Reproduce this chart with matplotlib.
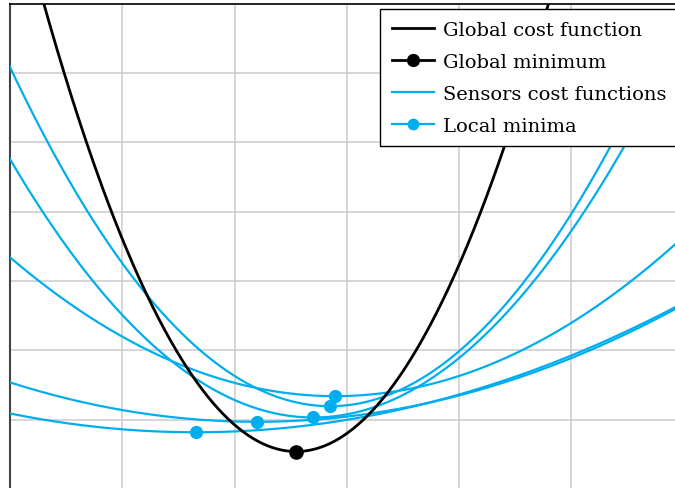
import numpy as np
import matplotlib
matplotlib.use("Agg")
from matplotlib import pyplot as plt
from matplotlib.lines import Line2D

# quadratic cost functions: c + a * (x - m)^2
sensor_min_x = [1.654, 2.200, 2.702, 2.851, 2.895]
sensor_min_y = [0.816, 0.967, 1.029, 1.192, 1.337]
sensor_curv = [0.099, 0.1174, 0.5106, 0.602, 0.239]

global_min_x = 2.548
global_min_y = 0.538
global_curv = 1.28

legend_labels = ["Global cost function", "Global minimum",
                 "Sensors cost functions", "Local minima"]

BLUE = "#00aeef"

plt.rcParams["font.family"] = ["DejaVu Serif"]

fig = plt.figure(figsize=(6.75, 4.89), dpi=100)
ax = fig.add_axes([10 / 675, -0.8 / 489, 673.8 / 675, 485.1 / 489])

x = np.linspace(-0.2, 6.5, 600)
for m, c, a in zip(sensor_min_x, sensor_min_y, sensor_curv):
    ax.plot(x, c + a * (x - m) ** 2, color=BLUE, linewidth=1.6, zorder=3)
ax.plot(x, global_min_y + global_curv * (x - global_min_x) ** 2,
        color="black", linewidth=2.0, zorder=4)

ax.plot(sensor_min_x, sensor_min_y, "o", color=BLUE, markersize=8.5, zorder=5)
ax.plot([global_min_x], [global_min_y], "o", color="black", markersize=9.5, zorder=6)

ax.set_xlim(0, 6)
ax.set_ylim(0, 7)
ax.set_xticks(np.arange(1, 6))
ax.set_yticks(np.arange(1, 7))
ax.tick_params(length=0, labelleft=False, labelbottom=False)
ax.grid(True, color="#cccccc", linewidth=1.1)
ax.set_axisbelow(True)
ax.spines["left"].set_color("#444444")
ax.spines["left"].set_linewidth(1.5)
ax.spines["top"].set_linewidth(1.2)

handles = [
    Line2D([], [], color="black", linewidth=2.0),
    Line2D([], [], color="black", linewidth=2.0, marker="o", markersize=8.5),
    Line2D([], [], color=BLUE, linewidth=1.6),
    Line2D([], [], color=BLUE, linewidth=1.6, marker="o", markersize=7.5),
]
leg = ax.legend(handles, legend_labels, loc="upper left",
                bbox_to_anchor=(380 / 675, 1 - 10 / 489),
                bbox_transform=fig.transFigure, borderaxespad=0,
                fancybox=False, framealpha=1, edgecolor="black",
                fontsize=14, handlelength=2.2, handletextpad=0.46,
                labelspacing=0.72, borderpad=0.6)
leg.get_frame().set_linewidth(1.0)
leg.set_zorder(10)

fig.savefig("out.png", dpi=100)
